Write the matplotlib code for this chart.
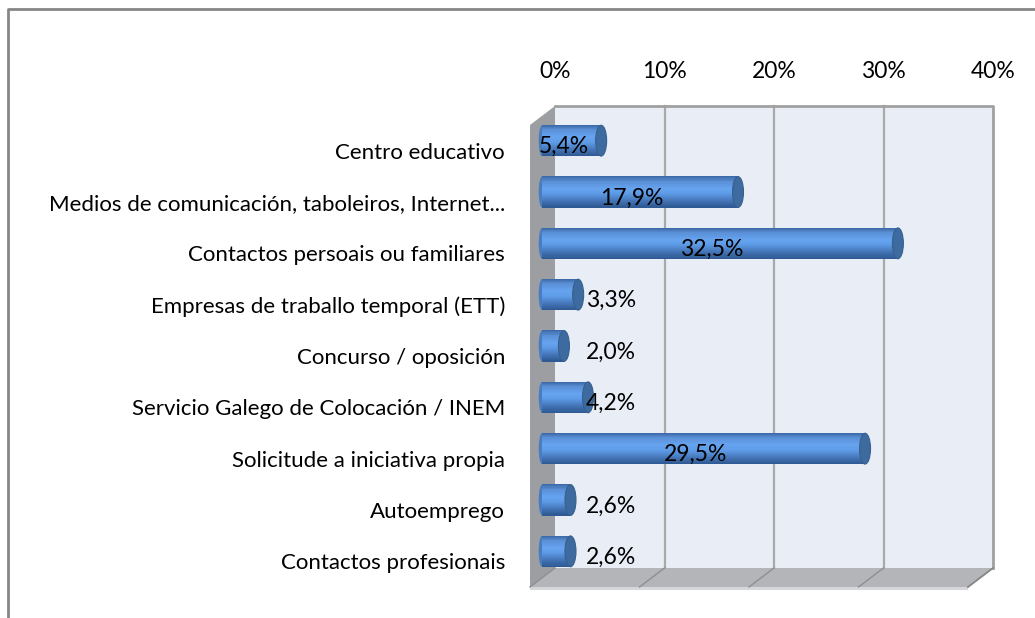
import matplotlib
matplotlib.use('Agg')
import matplotlib.pyplot as plt
import matplotlib.transforms as mtransforms
from matplotlib.colors import LinearSegmentedColormap
from matplotlib.patches import Polygon, Ellipse
from matplotlib.lines import Line2D
import numpy as np

categories = ['Centro educativo',
              'Medios de comunicación, taboleiros, Internet...',
              'Contactos persoais ou familiares',
              'Empresas de traballo temporal (ETT)',
              'Concurso / oposición',
              'Servicio Galego de Colocación / INEM',
              'Solicitude a iniciativa propia',
              'Autoemprego',
              'Contactos profesionais']
values = [5.4, 17.9, 32.5, 3.3, 2.0, 4.2, 29.5, 2.6, 2.6]
xticks = [0, 10, 20, 30, 40]
xticklabels = ['0%', '10%', '20%', '30%', '40%']

plt.rcParams['font.family'] = ['Lato', 'DejaVu Sans']

W, H = 1035, 618
fig = plt.figure(figsize=(W / 100, H / 100), dpi=100)

# back wall in pixels
x0, x1, y0, y1 = 555, 993, 106, 568
ax = fig.add_axes([x0 / W, 1 - y1 / H, (x1 - x0) / W, (y1 - y0) / H])
ax.set_xlim(0, 40)
ax.set_ylim(len(categories) - 0.5, -0.5)
ax.set_facecolor('#e9edf6')
for s in ax.spines.values():
    s.set_visible(False)

# depth of the 3d box, in pixels
ddx, ddy = 25, 19
dx = ddx / (x1 - x0)
dy = ddy / (y1 - y0)

# floor and side wall
floor = Polygon([(0, 0), (1, 0), (1 - dx, -dy), (-dx, -dy)], closed=True,
                transform=ax.transAxes, facecolor='#b3b5b9', edgecolor='none',
                clip_on=False, zorder=0)
ax.add_patch(floor)
front = Polygon([(-dx, -dy), (1 - dx, -dy), (1 - dx, -dy - 3 / (y1 - y0)),
                 (-dx, -dy - 3 / (y1 - y0))], closed=True,
                transform=ax.transAxes, facecolor='#d6d7da', edgecolor='none',
                clip_on=False, zorder=0)
ax.add_patch(front)
side = Polygon([(0, 0), (0, 1), (-dx, 1 - dy), (-dx, -dy)], closed=True,
               transform=ax.transAxes, facecolor='#9d9ea1', edgecolor='none',
               clip_on=False, zorder=0)
ax.add_patch(side)

# gridlines on wall and floor
for t in xticks:
    xa = t / 40
    if 0 < t < 40:
        ax.plot([xa, xa], [0, 1], transform=ax.transAxes, color='#a9a9a9',
                lw=1.6, zorder=1, clip_on=False)
    ax.plot([xa, xa - dx], [0, -dy], transform=ax.transAxes,
            color='#8e8f92', lw=1.0, zorder=1, clip_on=False)
ax.plot([0, 1, 1], [1, 1, 0], transform=ax.transAxes, color='#a0a0a0',
        lw=2, zorder=1, clip_on=False)
ax.plot([1, 1 - dx], [0, -dy], transform=ax.transAxes, color='#888888',
        lw=1.2, zorder=1, clip_on=False)

# ticks on top
ax.xaxis.tick_top()
ax.set_xticks(xticks)
ax.set_xticklabels(xticklabels, fontsize=16.5)
ax.tick_params(axis='x', length=0, pad=17)
ax.set_yticks(range(len(categories)))
ax.set_yticklabels(categories, fontsize=16)
ax.tick_params(axis='y', length=0, pad=36)
shift = mtransforms.ScaledTranslation(0, -19 / 100, fig.dpi_scale_trans)
for lab in ax.get_yticklabels():
    lab.set_transform(lab.get_transform() + shift)

# bars at mid depth, cylinder shading made of thin strips
mid = mtransforms.offset_copy(ax.transData, fig=fig, x=-13, y=-9,
                              units='dots')
shade = LinearSegmentedColormap.from_list(
    'cyl', [(0.0, '#3a66a3'), (0.15, '#5a8fd6'), (0.4, '#67a4f0'),
            (0.55, '#5e9be7'), (0.78, '#4677ba'), (1.0, '#2d5890')])
bar_h = 0.6
ypos = np.arange(len(categories))
n = 30
px_per_unit = (x1 - x0) / 40
cap_w = 11 / px_per_unit
for i in range(n):
    off = -bar_h / 2 + (i + 0.5) * bar_h / n
    ax.barh(ypos + off, values, height=bar_h / n * 1.3, left=0,
            color=shade((i + 0.5) / n), transform=mid, zorder=3,
            clip_on=False, linewidth=0)
for y, v in zip(ypos, values):
    ax.add_patch(Ellipse((v, y), cap_w, bar_h, transform=mid,
                         facecolor='#3d6a9f', edgecolor='#36608f', lw=0.8,
                         zorder=4, clip_on=False))
    ax.add_patch(Ellipse((0, y), cap_w * 0.6, bar_h, transform=mid,
                         facecolor='#4a7cc0', edgecolor='none',
                         zorder=2, clip_on=False))

# value labels
lab_tr = mtransforms.offset_copy(ax.transData, fig=fig, x=-21, y=-15,
                                 units='dots')
for y, v in zip(ypos, values):
    xv = v / 2 if v > 5 else 7.0
    ax.text(xv, y, ('%.1f%%' % v).replace('.', ','), transform=lab_tr,
            ha='center', va='center', fontsize=16.5, color='black', zorder=5)

# outer chart border
fig.add_artist(Line2D([8 / W, 8 / W, 1], [0, 1 - 9 / H, 1 - 9 / H],
                      transform=fig.transFigure, color='#868686', lw=2))

fig.savefig('out.png', dpi=100)
